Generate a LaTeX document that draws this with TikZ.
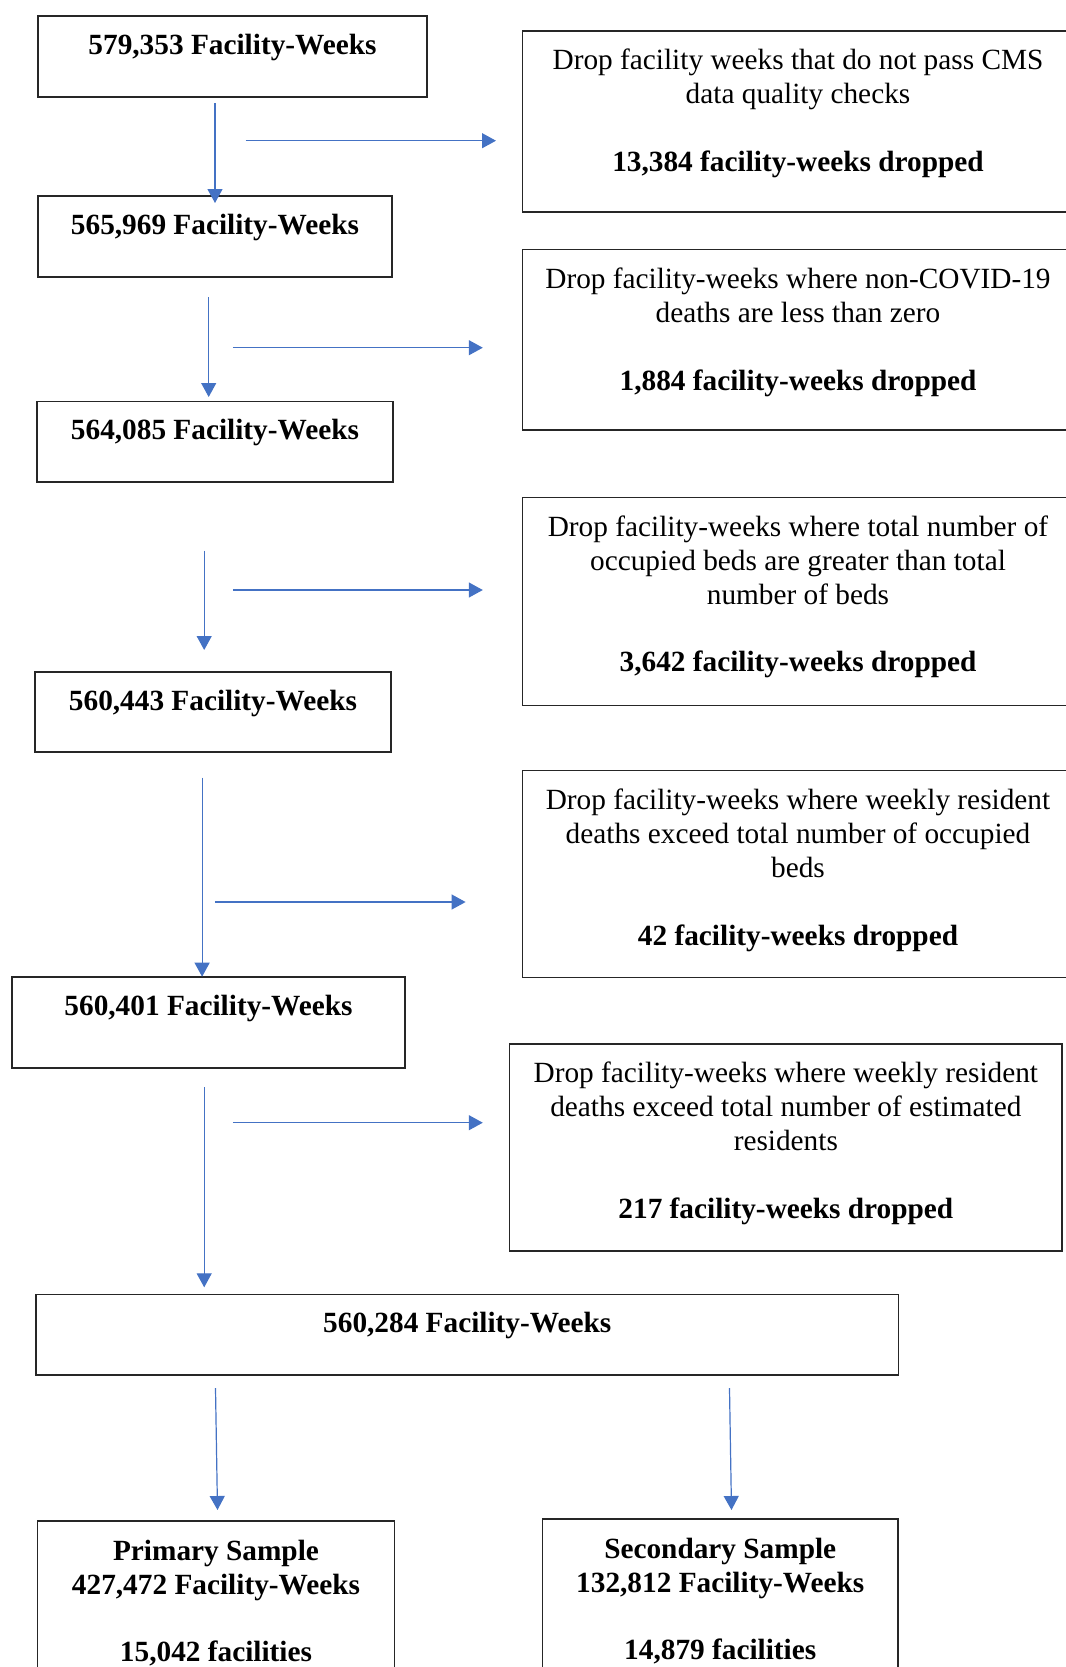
\documentclass[tikz,border=0pt]{standalone}
\usepackage{fontspec}
\setmainfont{Liberation Serif}
\usetikzlibrary{arrows.meta}
\newlength\pxu
\setlength\pxu{0.5pt}
\definecolor{arrowblue}{HTML}{4472C4}
\definecolor{boxline}{HTML}{262626}
% [first-baseline offset] width, height (in px units), content
\newcommand\boxtext[4][38]{\parbox[t][#3\pxu][t]{#2\pxu}{\centering\rule{0pt}{#1\pxu}#4}}
\begin{document}
\begin{tikzpicture}[x=0.5pt,y=-0.5pt,
  font=\fontsize{14.65pt}{16.95pt}\selectfont,
  fbox/.style={draw=boxline, line width=0.65pt, inner sep=0pt, outer sep=0pt, anchor=north west},
  flow/.style={draw=arrowblue, line width=0.6pt, -{Triangle[width=7.5pt,length=7pt]}}]
\useasboundingbox (0,0) rectangle (1066,1667);
\clip (0,0) rectangle (1066,1667);

% left column
\node[fbox] (n1) at (38,16) {\boxtext{389}{81}{\textbf{579,353 Facility-Weeks}}};
\node[fbox] (n2) at (38,196) {\boxtext{354}{81}{\textbf{565,969 Facility-Weeks}}};
\node[fbox] (n3) at (37,401.5) {\boxtext{356}{80.5}{\textbf{564,085 Facility-Weeks}}};
\node[fbox] (n4) at (35,672) {\boxtext{356}{80}{\textbf{560,443 Facility-Weeks}}};
\node[fbox] (n5) at (12,977) {\boxtext{393}{91}{\textbf{560,401 Facility-Weeks}}};
\node[fbox] (n6) at (36,1294.5) {\boxtext{862.5}{80.5}{\textbf{560,284 Facility-Weeks}}};
\node[fbox] (n7) at (37.5,1521) {\boxtext[39.5]{357}{190}{\textbf{Primary Sample}\\ \textbf{427,472 Facility-Weeks}\\[16.6pt] \textbf{15,042 facilities}}};
\node[fbox] (n8) at (542.5,1519) {\boxtext[39.5]{355.5}{190}{\textbf{Secondary Sample}\\ \textbf{132,812 Facility-Weeks}\\[16.6pt] \textbf{14,879 facilities}}};

% right column
\node[fbox] (r1) at (522.5,31) {\boxtext[38.8]{551}{181}{Drop facility weeks that do not pass CMS\\ data quality checks\\[16.95pt] \textbf{13,384 facility-weeks dropped}}};
\node[fbox] (r2) at (522.5,249.5) {\boxtext[38.8]{551}{180.5}{Drop facility-weeks where non-COVID-19\\ deaths are less than zero\\[16.95pt] \textbf{1,884 facility-weeks dropped}}};
\node[fbox] (r3) at (522.5,497.5) {\boxtext[38.8]{551}{208}{Drop facility-weeks where total number of\\ occupied beds are greater than total\\ number of beds\\[16.95pt] \textbf{3,642 facility-weeks dropped}}};
\node[fbox] (r4) at (522.5,770.7) {\boxtext[38.8]{551}{207}{Drop facility-weeks where weekly resident\\ deaths exceed total number of occupied\\ beds\\[16.95pt] \textbf{42 facility-weeks dropped}}};
\node[fbox] (r5) at (509.7,1044) {\boxtext[38.8]{552.3}{207}{Drop facility-weeks where weekly resident\\ deaths exceed total number of estimated\\ residents\\[16.95pt] \textbf{217 facility-weeks dropped}}};

% arrow end points
\coordinate (v1s) at (215,103);     \coordinate (v1e) at (215,203);
\coordinate (h1s) at (245.5,140.7); \coordinate (h1e) at (496,140.7);
\coordinate (v2s) at (208.7,297);   \coordinate (v2e) at (208.7,397);
\coordinate (h2s) at (232.8,347.7); \coordinate (h2e) at (482.8,347.7);
\coordinate (v3s) at (204.2,550.7); \coordinate (v3e) at (204.2,650);
\coordinate (h3s) at (232.8,590);   \coordinate (h3e) at (482.8,590);
\coordinate (v4s) at (202.1,777.7); \coordinate (v4e) at (202.1,976.7);
\coordinate (h4s) at (214.9,902);   \coordinate (h4e) at (465.6,902);
\coordinate (v5s) at (204.2,1087.3);\coordinate (v5e) at (204.2,1287.3);
\coordinate (h5s) at (232.8,1122.7);\coordinate (h5e) at (482.8,1122.7);
\coordinate (v6s) at (215.5,1388);  \coordinate (v6e) at (217.5,1510);
\coordinate (v7s) at (729.5,1388);  \coordinate (v7e) at (731.5,1510);

\draw[flow] (v1s) -- (v1e);
\draw[flow] (h1s) -- (h1e);
\draw[flow] (v2s) -- (v2e);
\draw[flow] (h2s) -- (h2e);
\draw[flow] (v3s) -- (v3e);
\draw[flow] (h3s) -- (h3e);
\draw[flow] (v4s) -- (v4e);
\draw[flow] (h4s) -- (h4e);
\draw[flow] (v5s) -- (v5e);
\draw[flow] (h5s) -- (h5e);
\draw[flow] (v6s) -- (v6e);
\draw[flow] (v7s) -- (v7e);
\end{tikzpicture}
\end{document}
